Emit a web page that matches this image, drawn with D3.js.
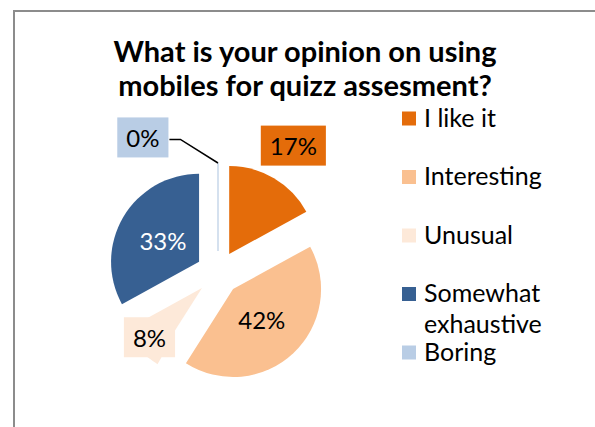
<!DOCTYPE html>
<html>
<head>
<meta charset="utf-8">
<script src="https://cdn.jsdelivr.net/npm/d3@7"></script>
<style>
html,body{margin:0;padding:0;background:#fff;}
svg{display:block;}
</style>
</head>
<body>
<svg id="chart" width="595" height="427"></svg>
<script>
const titleLines = ["What is your opinion on using", "mobiles for quizz assesment?"];
const categories = ["I like it", "Interesting", "Unusual", "Somewhat exhaustive", "Boring"];
const values = [17, 42, 8, 33, 0];
const colors = ["#E46C0A", "#FAC090", "#FDE9D9", "#376092", "#B9CDE5"];
const labelTextColors = ["#000", "#000", "#000", "#fff", "#000"];
const labelModes = ["outside", "inside", "callout", "inside", "leader"];

const W = 595, H = 427;
const svg = d3.select("#chart");
const FONT = "Lato, 'Liberation Sans', sans-serif";

// frame
svg.append("rect").attr("x", 14).attr("y", 11).attr("width", W + 20).attr("height", H + 20)
  .attr("fill", "#fff").attr("stroke", "#8c8c8c").attr("stroke-width", 2);

// title
const title = svg.append("text").attr("text-anchor", "middle")
  .attr("font-family", FONT).attr("font-weight", "bold").attr("font-size", 29).attr("fill", "#000");
titleLines.forEach((t, i) => {
  title.append("tspan").attr("x", 305).attr("y", 62 + i * 34).text(t);
});

// pie
const cx = 218, cy = 273, R = 88, explode = 22;
const total = d3.sum(values);
const pie = d3.pie().sort(null).value(d => d)(values);
const arc = d3.arc().innerRadius(0).outerRadius(R);
const pct = d3.format(".0%");

const g = svg.append("g").attr("transform", `translate(${cx},${cy})`);
const mid = d => (d.startAngle + d.endAngle) / 2;
const dir = a => [Math.sin(a), -Math.cos(a)];

pie.forEach((d, i) => {
  const [dx, dy] = dir(mid(d)).map(v => v * explode);
  g.append("path").attr("d", arc(d))
    .attr("transform", `translate(${dx},${dy})`)
    .attr("fill", colors[i])
    .attr("stroke", d.value === 0 ? colors[i] : "none")
    .attr("stroke-width", d.value === 0 ? 1.2 : 0);
});

// labels
pie.forEach((d, i) => {
  const a = mid(d);
  const [ux, uy] = dir(a);
  const txt = pct(d.value / total);
  const mode = labelModes[i];
  const lg = g.append("g");
  let px, py;
  if (mode === "inside") {
    const r = explode + 42;
    px = ux * r; py = uy * r;
  } else if (mode === "outside") {
    px = ux * 148; py = uy * 148;
  } else if (mode === "callout") {
    px = ux * 94; py = uy * 94;
  } else {
    const a2 = a - 29 * Math.PI / 180;
    px = Math.sin(a2) * 155; py = -Math.cos(a2) * 155;
  }
  const t = lg.append("text").attr("x", px).attr("y", py)
    .attr("text-anchor", "middle").attr("dominant-baseline", "central")
    .attr("font-family", FONT).attr("font-size", 24).attr("fill", labelTextColors[i]).text(txt);
  if (mode !== "inside") {
    const tw = t.node().getComputedTextLength();
    const bw = tw + 18, bh = 40;
    const bx = px - bw / 2, by = py - bh / 2;
    if (mode === "callout") {
      const tipX = px + 8;
      lg.insert("path", "text").attr("fill", colors[i])
        .attr("d", `M${bx},${by}H${bx + bw}V${by + bh}H${tipX + 4}L${tipX},${by + bh + 7}L${tipX - 9},${by + bh}H${bx}Z`);
    } else {
      lg.insert("rect", "text").attr("x", bx).attr("y", by).attr("width", bw).attr("height", bh)
        .attr("fill", colors[i]);
    }
    if (mode === "leader") {
      const ox = ux * (R + explode), oy = uy * (R + explode);
      lg.append("path").attr("fill", "none").attr("stroke", "#000").attr("stroke-width", 1.5)
        .attr("d", `M${bx + bw + 1},${py + 2}H${bx + bw + 12}L${ox},${oy}`);
    }
  }
});

// legend
const lgX = 402, lgY = 118.5, lgStep = 58.5, sw = 14, maxW = 130;
const legend = svg.append("g");
categories.forEach((c, i) => {
  const yc = lgY + i * lgStep;
  legend.append("rect").attr("x", lgX).attr("y", yc - sw / 2).attr("width", sw).attr("height", sw)
    .attr("fill", colors[i]);
  const t = legend.append("text").attr("font-family", FONT).attr("font-size", 25).attr("fill", "#000");
  const words = c.split(" ");
  let line = [], lineNo = 0;
  let ts = t.append("tspan").attr("x", lgX + 22).attr("y", yc + 8);
  words.forEach(w => {
    line.push(w);
    ts.text(line.join(" "));
    if (ts.node().getComputedTextLength() > maxW && line.length > 1) {
      line.pop();
      ts.text(line.join(" "));
      line = [w];
      lineNo++;
      ts = t.append("tspan").attr("x", lgX + 22).attr("y", yc + 8 + lineNo * 31).text(w);
    }
  });
});
</script>
</body>
</html>
